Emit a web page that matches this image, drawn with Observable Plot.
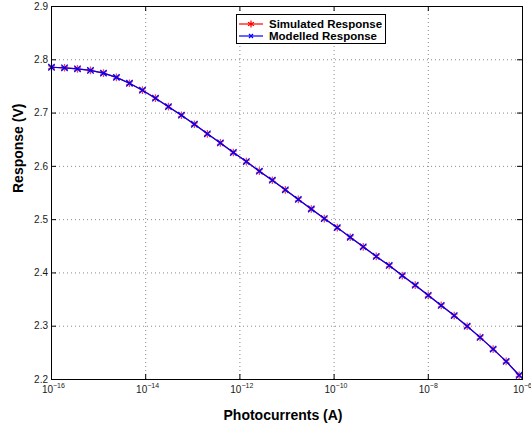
<!DOCTYPE html>
<html>
<head>
<meta charset="utf-8">
<script src="https://cdn.jsdelivr.net/npm/d3@7"></script>
<script src="https://cdn.jsdelivr.net/npm/@observablehq/plot@0.6"></script>
<style>
  body { margin: 0; background: white; }
  #wrap { position: relative; width: 531px; height: 431px; font-family: "Liberation Sans", Arial, sans-serif; }
  #legend { position: absolute; left: 236px; top: 14px; width: 148px; height: 28px; border: 1px solid black; background: white; }
  .row { position: absolute; left: 0; height: 12px; display: flex; align-items: center; }
  .row svg { margin-left: 2px; }
  .row span { margin-left: 6px; font-weight: bold; font-size: 11.5px; color: black; white-space: nowrap; }
</style>
</head>
<body>
<div id="wrap"></div>
<script>
// Photocurrents (A)
const currents = [1.00e-16, 1.89e-16, 3.56e-16, 6.72e-16, 1.27e-15, 2.39e-15, 4.52e-15, 8.52e-15,
  1.61e-14, 3.04e-14, 5.73e-14, 1.08e-13, 2.04e-13, 3.85e-13, 7.26e-13, 1.37e-12, 2.59e-12,
  4.88e-12, 9.21e-12, 1.74e-11, 3.28e-11, 6.19e-11, 1.17e-10, 2.20e-10, 4.16e-10, 7.85e-10,
  1.48e-9, 2.80e-9, 5.28e-9, 9.96e-9, 1.88e-8, 3.55e-8, 6.69e-8, 1.26e-7, 2.38e-7, 4.50e-7, 8.49e-7];
// Response (V)
const simulated = [2.786, 2.785, 2.783, 2.780, 2.775, 2.767, 2.756, 2.743, 2.728, 2.712, 2.696,
  2.679, 2.661, 2.644, 2.626, 2.609, 2.591, 2.574, 2.556, 2.538, 2.520, 2.502, 2.485, 2.467,
  2.449, 2.431, 2.414, 2.395, 2.377, 2.358, 2.339, 2.320, 2.300, 2.279, 2.257, 2.234, 2.208];
const modelled = [2.786, 2.785, 2.783, 2.780, 2.775, 2.767, 2.756, 2.743, 2.728, 2.712, 2.696,
  2.679, 2.661, 2.644, 2.626, 2.609, 2.591, 2.574, 2.556, 2.538, 2.520, 2.502, 2.485, 2.467,
  2.449, 2.431, 2.414, 2.395, 2.377, 2.358, 2.339, 2.320, 2.300, 2.279, 2.257, 2.234, 2.208];
const seriesNames = ["Simulated Response", "Modelled Response"];
const seriesColors = ["#ff0000", "#0000ff"];
const xTicks = [1e-16, 1e-14, 1e-12, 1e-10, 1e-8, 1e-6];
const xTickExponents = ["\u221216", "\u221214", "\u221212", "\u221210", "\u22128", "\u22126"];
const yTicks = [2.2, 2.3, 2.4, 2.5, 2.6, 2.7, 2.8, 2.9];
const xLabel = "Photocurrents (A)";
const yLabel = "Response (V)";

const sim = currents.map((c, i) => ({x: c, y: simulated[i]}));
const mod = currents.map((c, i) => ({x: c, y: modelled[i]}));
const xt = xTicks.map((t, i) => ({x: t, e: xTickExponents[i]}));

const W = 531, H = 431, mL = 51, mR = 9, mT = 6, mB = 52;
const fw = W - mL - mR, fh = H - mT - mB;
const grid = {stroke: "#888", strokeWidth: 1, strokeDasharray: "1,3"};

const chart = Plot.plot({
  width: W, height: H,
  marginLeft: mL, marginRight: mR, marginTop: mT, marginBottom: mB,
  style: {fontFamily: "'Liberation Sans', Arial, sans-serif", background: "white", overflow: "visible"},
  x: {type: "log", domain: [1e-16, 1e-6], axis: null},
  y: {domain: [2.2, 2.9], axis: null},
  marks: [
    Plot.ruleX(xTicks, grid),
    Plot.ruleY(yTicks, grid),
    Plot.line(sim, {x: "x", y: "y", stroke: seriesColors[0], strokeWidth: 1.2}),
    Plot.dot(sim, {x: "x", y: "y", symbol: "asterisk", r: 3.6, stroke: seriesColors[0], strokeWidth: 1.3, strokeOpacity: 0.75}),
    Plot.line(mod, {x: "x", y: "y", stroke: seriesColors[1], strokeWidth: 1.2}),
    Plot.dot(mod, {x: "x", y: "y", symbol: "times", r: 3, stroke: seriesColors[1], strokeWidth: 1.3}),
    Plot.tickX(xTicks, {x: d => d, insetTop: fh - 5, stroke: "black"}),
    Plot.tickX(xTicks, {x: d => d, insetBottom: fh - 5, stroke: "black"}),
    Plot.tickY(yTicks, {y: d => d, insetRight: fw - 5, stroke: "black"}),
    Plot.tickY(yTicks, {y: d => d, insetLeft: fw - 5, stroke: "black"}),
    Plot.frame({stroke: "black", strokeWidth: 1}),
    Plot.text(yTicks, {y: d => d, frameAnchor: "left", dx: -3.5, text: d => d.toFixed(1), textAnchor: "end", fontSize: 10, fill: "#1a1a1a"}),
    Plot.text(xt, {x: "x", frameAnchor: "bottom", dy: 13, dx: 1.5, text: () => "10", textAnchor: "end", fontSize: 10, fill: "#1a1a1a"}),
    Plot.text(xt, {x: "x", frameAnchor: "bottom", dy: 8, dx: 1.5, text: "e", textAnchor: "start", fontSize: 7, fill: "#1a1a1a"}),
    Plot.text([xLabel], {frameAnchor: "bottom", dy: 40, dx: -4, text: d => d, fontSize: 14, fontWeight: "bold", fill: "black"}),
    Plot.text([yLabel], {frameAnchor: "left", dx: -33, rotate: -90, text: d => d, fontSize: 14, fontWeight: "bold", fill: "black"})
  ]
});
const wrap = document.getElementById("wrap");
wrap.appendChild(chart);

// legend
const legend = document.createElement("div");
legend.id = "legend";
const markers = [
  '<line x1="0" y1="4" x2="24" y2="4" stroke="#ff0000" stroke-width="1.2"/><path d="M12,0.5V7.5M9,2.2L15,5.8M9,5.8L15,2.2" stroke="#ff0000" stroke-width="1.2"/>',
  '<line x1="0" y1="4" x2="24" y2="4" stroke="#0000ff" stroke-width="1.2"/><path d="M10,2L14,6M10,6L14,2" stroke="#0000ff" stroke-width="1.2"/>'
];
seriesNames.forEach((name, i) => {
  const row = document.createElement("div");
  row.className = "row";
  row.style.top = (3 + i * 12) + "px";
  row.innerHTML = '<svg width="24" height="8">' + markers[i] + '</svg><span>' + name + '</span>';
  legend.appendChild(row);
});
wrap.appendChild(legend);
</script>
</body>
</html>
